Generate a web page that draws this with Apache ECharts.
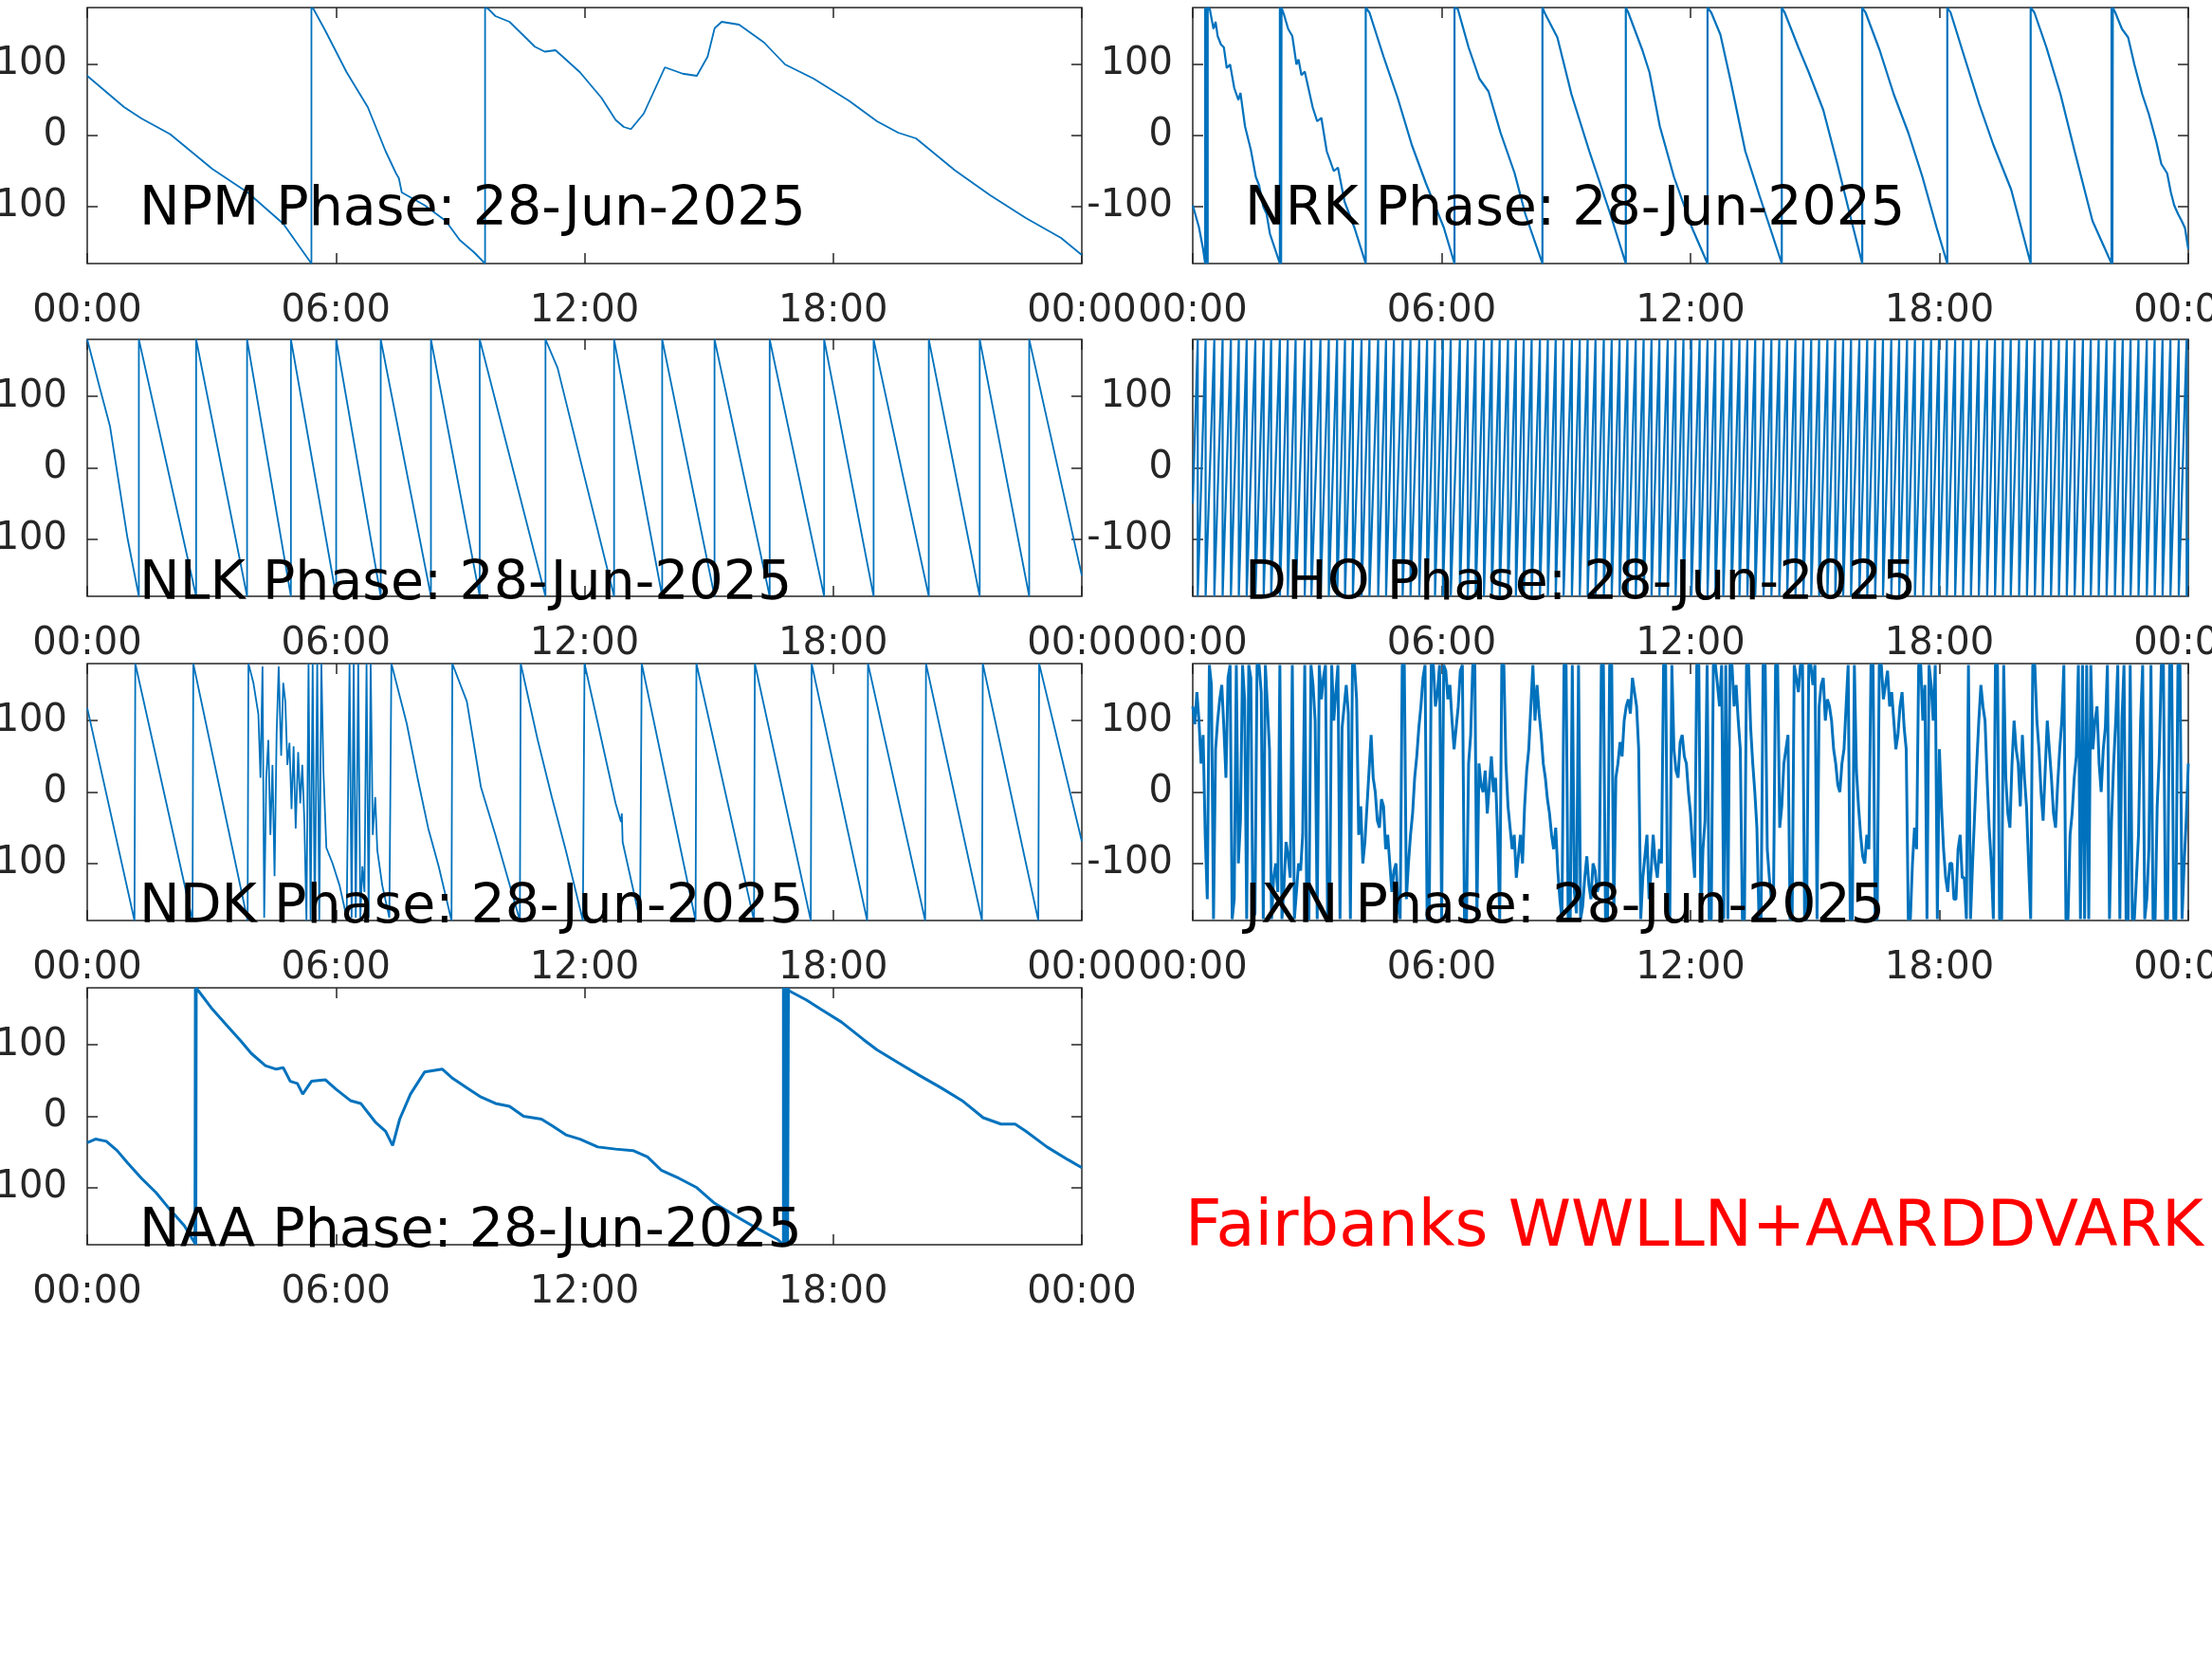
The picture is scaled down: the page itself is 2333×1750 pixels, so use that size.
<!DOCTYPE html>
<html><head><meta charset="utf-8">
<script src="https://cdn.jsdelivr.net/npm/echarts@6/dist/echarts.min.js"></script>
<style>html,body{margin:0;padding:0;background:#fff}#c{width:2333px;height:1750px}</style>
</head><body><div id="c"></div>
<script>
// ---- data (time in hours of 28-Jun-2025, phase in degrees) ----
const stations = ['NPM', 'NRK', 'NLK', 'DHO', 'NDK', 'JXN', 'NAA'];
const dateText = '28-Jun-2025';
const xTicks = [0, 6, 12, 18, 24];
const xTickLabels = ['00:00', '06:00', '12:00', '18:00', '00:00'];
const yTicks = [-100, 0, 100];
const footer = 'Fairbanks WWLLN+AARDDVARK';

const npmPhase = [[0,84],[0.89,40],[1.31,24],[2.0,2],[3.02,-47],[3.87,-80],[4.73,-124],[5.41,-180],[5.41,180],[5.46,178],[5.75,147],[6.26,89],[6.77,40],[7.2,-22],[7.45,-53],[7.52,-60],[7.59,-80],[8.14,-98],[8.65,-120],[8.99,-147],[9.33,-164],[9.6,-180],[9.6,180],[9.68,178],[9.85,168],[10.02,164],[10.19,160],[10.4,148],[10.61,136],[10.8,125],[11.04,118],[11.3,120],[11.55,107],[11.89,89],[12.41,53],[12.75,22],[12.95,12],[13.12,9],[13.43,31],[13.94,96],[14.37,87],[14.71,84],[14.97,111],[15.14,151],[15.31,160],[15.73,156],[16.33,131],[16.84,100],[17.53,80],[18.38,49],[19.06,20],[19.57,4],[20.0,-4],[20.94,-49],[21.79,-84],[22.65,-116],[23.5,-144],[24,-168]];

const nrkPhase = [[0,-98],[0.15,-129],[0.25,-160],[0.3,-180],[0.3,180],[0.32,150],[0.33,-180],[0.34,180],[0.36,-180],[0.36,180],[0.41,178],[0.5,150],[0.55,160],[0.6,140],[0.68,128],[0.75,124],[0.82,95],[0.9,100],[1.0,67],[1.1,50],[1.15,60],[1.26,13],[1.4,-20],[1.52,-58],[1.6,-70],[1.7,-100],[1.78,-110],[1.86,-138],[2.1,-180],[2.1,180],[2.12,170],[2.13,-180],[2.14,180],[2.2,170],[2.3,150],[2.4,140],[2.5,100],[2.55,107],[2.62,85],[2.7,90],[2.89,40],[3.0,20],[3.1,25],[3.23,-22],[3.4,-50],[3.5,-45],[3.66,-93],[3.9,-130],[4.17,-180],[4.17,180],[4.26,173],[4.6,111],[4.94,53],[5.28,-13],[5.62,-67],[6.05,-129],[6.31,-180],[6.31,180],[6.39,178],[6.65,124],[6.91,80],[7.13,62],[7.42,4],[7.76,-53],[8.02,-111],[8.43,-180],[8.43,180],[8.48,173],[8.79,138],[9.13,58],[9.56,-22],[10.07,-111],[10.44,-180],[10.44,180],[10.5,173],[10.84,120],[11.01,89],[11.26,13],[11.6,-58],[12.03,-129],[12.41,-180],[12.41,180],[12.5,173],[12.72,142],[12.97,76],[13.32,-22],[13.66,-84],[14.2,-180],[14.2,180],[14.27,173],[14.6,124],[14.85,89],[15.2,36],[15.54,-40],[15.88,-120],[16.14,-180],[16.14,180],[16.22,173],[16.56,120],[16.9,58],[17.25,4],[17.59,-58],[17.93,-129],[18.19,-180],[18.19,180],[18.27,173],[18.6,111],[18.96,44],[19.3,-13],[19.73,-76],[20.2,-180],[20.2,180],[20.29,173],[20.58,124],[20.92,58],[21.26,-22],[21.69,-120],[22.15,-180],[22.15,180],[22.17,-180],[22.18,180],[22.24,173],[22.4,150],[22.55,138],[22.7,100],[22.89,58],[23.05,30],[23.23,-9],[23.35,-40],[23.49,-53],[23.58,-80],[23.66,-98],[23.75,-110],[23.84,-120],[23.92,-130],[24,-160]];

const nlkPhase = [[0,180],[0.29,115],[0.55,58],[0.97,-98],[1.246,-180],[1.246,180],[2.628,-180],[2.628,180],[3.857,-180],[3.857,180],[4.915,-180],[4.915,180],[6.007,-180],[6.007,180],[7.082,-180],[7.082,180],[8.294,-180],[8.294,180],[9.471,-180],[9.471,180],[11.058,-180],[11.058,180],[11.35,140],[12.713,-180],[12.713,180],[13.874,-180],[13.874,180],[15.137,-180],[15.137,180],[16.468,-180],[16.468,180],[17.782,-180],[17.782,180],[18.976,-180],[18.976,180],[20.307,-180],[20.307,180],[21.536,-180],[21.536,180],[22.73,-180],[22.73,180],[24,-151]];

// DHO: times (h) at which the rising phase wraps from +180 back to -180
const dhoStartPhase = -50;
const dhoWrapTimes = [0.12,0.31,0.52,0.72,0.92,1.11,1.30,1.51,1.71,1.89,2.10,2.29,2.48,2.70,2.86,3.08,3.28,3.48,3.67,3.86,4.07,4.26,4.47,4.66,4.85,5.06,5.25,5.46,5.65,5.84,6.03,6.22,6.44,6.63,6.82,7.02,7.21,7.40,7.60,7.79,7.98,8.17,8.37,8.56,8.75,8.94,9.14,9.33,9.52,9.71,9.91,10.10,10.29,10.48,10.68,10.87,11.06,11.25,11.45,11.64,11.83,12.02,12.22,12.41,12.60,12.79,12.99,13.18,13.37,13.56,13.76,13.95,14.14,14.33,14.53,14.72,14.91,15.10,15.30,15.49,15.68,15.87,16.07,16.26,16.45,16.64,16.84,17.03,17.22,17.41,17.61,17.80,17.99,18.18,18.38,18.57,18.76,18.95,19.15,19.34,19.53,19.72,19.92,20.11,20.30,20.49,20.69,20.88,21.07,21.26,21.46,21.65,21.84,22.03,22.23,22.42,22.61,22.80,23.00,23.19,23.38,23.57,23.77,23.96];
const dhoEndPhase = -100;

const ndkPhase = [[0,118],[1.14,-180],[1.16,180],[2.54,-180],[2.56,180],[3.87,-180],[3.89,180],[4.01,153],[4.13,109],[4.18,20],[4.23,176],[4.27,-176],[4.32,20],[4.37,73],[4.42,-60],[4.47,38],[4.52,-118],[4.57,82],[4.62,176],[4.68,51],[4.73,153],[4.78,127],[4.83,38],[4.88,69],[4.93,-24],[4.98,64],[5.03,-51],[5.09,56],[5.14,-16],[5.19,38],[5.24,-42],[5.29,-180],[5.34,180],[5.39,-180],[5.44,180],[5.49,-180],[5.55,180],[5.6,-180],[5.65,180],[5.7,29],[5.77,-78],[5.92,-100],[6.09,-131],[6.26,-176],[6.33,180],[6.38,-176],[6.43,180],[6.48,-176],[6.54,180],[6.59,-176],[6.64,-104],[6.69,-140],[6.74,180],[6.79,-176],[6.84,180],[6.89,-60],[6.95,-7],[7.0,-82],[7.12,-131],[7.29,-176],[7.34,180],[7.71,96],[7.97,20],[8.23,-51],[8.48,-104],[8.79,-180],[8.81,180],[9.16,127],[9.5,7],[9.85,-60],[10.44,-180],[10.46,180],[10.87,73],[11.21,-7],[11.55,-82],[11.96,-180],[12.0,180],[12.41,73],[12.75,-16],[12.88,-42],[12.9,-30],[12.92,-70],[13.34,-180],[13.38,180],[14.68,-180],[14.7,180],[16.09,-180],[16.11,180],[17.46,-180],[17.48,180],[18.82,-180],[18.84,180],[20.22,-180],[20.24,180],[21.59,-180],[21.61,180],[22.95,-180],[22.97,180],[24,-69]];

// JXN: one value every 0.05 h from 00:00 to 24:00 (20 per hour)
const jxnStepHours = 0.05;
const jxnPhase = [
 120,95,140,100,40,80,-60,-150,178,150,-178,60,100,130,150,90,20,160,178,-178,
 -150,178,-100,-40,178,130,-178,178,160,-178,-170,178,178,140,-178,178,120,60,-178,-120,
 -100,-140,178,-178,-130,-70,-90,-120,178,-178,-140,-100,-110,-60,178,-178,-178,178,150,100,
 -178,178,130,160,178,-178,-178,178,100,140,178,-178,90,120,150,110,-178,178,178,130,
 -60,-20,-100,-70,-20,30,80,20,0,-40,-50,-10,-20,-80,-60,-100,-140,-110,-100,-160,
 -178,178,178,-150,-100,-60,-30,20,50,90,120,160,178,-178,-178,178,178,120,140,178,
 -178,178,170,130,150,100,60,90,120,170,178,-178,-178,40,80,178,178,-178,40,10,
 0,30,-30,10,50,0,20,-60,-178,178,178,40,-20,-50,-80,-60,-120,-90,-60,-100,
 -20,30,60,120,178,100,150,110,80,40,20,-10,-30,-60,-80,-50,-110,-150,-178,178,
 178,-178,-178,178,-140,-170,178,-178,-160,-120,-90,-130,-150,-100,-110,-140,-130,178,178,-178,
 -178,178,178,-178,20,40,70,50,100,120,130,110,160,140,120,60,-178,-120,-90,-60,
 -150,-110,-60,-100,-120,-80,-100,178,178,-178,-178,178,60,30,20,70,80,50,40,0,
 -30,-80,-120,178,178,-178,-80,-40,178,-178,-178,178,178,150,120,178,-178,178,-178,178,
 178,120,150,100,60,-178,-178,178,178,90,40,0,-50,-178,-178,178,178,-80,-120,-150,
 -150,178,178,-50,-20,40,60,80,-178,-178,178,160,140,178,178,-178,-178,178,178,150,
 178,-178,120,150,160,100,130,120,100,60,40,10,0,40,60,120,178,-178,-178,178,
 30,-20,-60,-90,-100,-60,-80,178,178,-178,-178,178,178,130,150,170,120,140,100,60,
 80,120,140,90,60,-178,-178,-100,-50,-80,178,178,100,150,-178,178,150,100,178,-178,
 60,-20,-80,-120,-140,-100,-100,-150,-150,-80,-60,-120,-120,-178,178,-178,-100,-30,40,100,
 150,120,100,20,-50,-100,-178,178,178,-178,-178,178,20,-30,-50,40,100,60,40,-20,
 80,20,-20,-100,-178,178,178,100,60,0,-40,30,100,60,20,-30,-50,10,60,100,
 178,-178,-178,-60,-30,20,50,178,-178,178,-178,178,-178,178,60,100,120,40,0,60,
 90,178,-178,-40,40,100,178,-178,100,178,-178,-178,178,-178,-178,-120,-60,100,178,-178,
 -150,-80,178,-178,-178,-20,50,178,178,-178,-178,178,178,-178,-178,178,178,-178,-100,-40,
 40];

const naaPhase = [[0,-37],[0.2,-32],[0.46,-35],[0.72,-48],[0.97,-65],[1.31,-87],[1.66,-107],[2.0,-131],[2.34,-153],[2.6,-178],[2.61,180],[2.62,-180],[2.63,180],[2.68,176],[3.02,150],[3.36,128],[3.7,106],[3.96,88],[4.3,71],[4.56,66],[4.73,68],[4.9,49],[5.07,46],[5.2,31],[5.41,49],[5.75,51],[6.0,38],[6.35,22],[6.6,18],[6.95,-8],[7.2,-21],[7.37,-41],[7.54,-4],[7.8,31],[8.14,62],[8.57,66],[8.82,53],[9.16,40],[9.5,27],[9.85,18],[10.19,14],[10.53,0],[10.96,-4],[11.21,-13],[11.55,-26],[11.89,-32],[12.32,-43],[12.75,-46],[13.17,-48],[13.52,-57],[13.86,-76],[14.28,-87],[14.71,-100],[15.14,-122],[15.65,-140],[16.16,-157],[16.67,-173],[16.8,-180],[16.8,180],[16.82,-180],[16.84,180],[16.86,-180],[16.88,180],[16.9,-180],[16.92,180],[16.93,176],[17.35,163],[17.7,150],[18.2,132],[18.72,108],[19.06,93],[19.57,75],[20.09,57],[20.6,40],[21.11,22],[21.62,-2],[22.05,-11],[22.39,-11],[22.65,-21],[23.16,-43],[23.67,-61],[24,-72]];

// ---- build series data from the arrays ----
function dhoSeries() {
  const pts = [[0, dhoStartPhase]];
  dhoWrapTimes.forEach(w => { pts.push([w, 180]); pts.push([w, -180]); });
  pts.push([24, dhoEndPhase]);
  return pts;
}
const jxnSeries = jxnPhase.map((v, i) => [+(i * jxnStepHours).toFixed(3), v]);
const seriesData = [npmPhase, nrkPhase, nlkPhase, dhoSeries(), ndkPhase, jxnSeries, naaPhase];
const lineWidths = [1.8, 2.2, 1.8, 2.2, 1.8, 3, 3];

// ---- layout ----
const FONT = 'DejaVu Sans';
const AX = '#262626';
const LINE = '#0072BD';
const colLeft = [92, 1258], colWidth = [1049, 1050];
const rowTop = [8, 358, 700, 1042], rowHeight = [270, 271, 271, 271];
const titleY = [222, 617, 958, 1300];
const titleX = [147, 1313];
const tick = { show: true, inside: true, length: 11, lineStyle: { color: AX, width: 1.5 } };

const grid = [], xAxis = [], yAxis = [], series = [], graphic = [];
stations.forEach((name, i) => {
  const r = Math.floor(i / 2), c = i % 2;
  grid.push({ left: colLeft[c], top: rowTop[r], width: colWidth[c], height: rowHeight[r],
    containLabel: false, outerBoundsMode: 'none',
    show: true, borderColor: AX, borderWidth: 1.5, backgroundColor: '#fff' });
  const fmt = v => { const k = xTicks.indexOf(v); return k >= 0 ? xTickLabels[k] : ''; };
  xAxis.push({ type: 'value', gridIndex: i, position: 'bottom', min: 0, max: 24, interval: 6,
    axisLine: { show: false, onZero: false }, splitLine: { show: false }, axisTick: tick,
    axisLabel: { show: true, margin: 31, color: AX, fontFamily: FONT, fontSize: 40,
      showMinLabel: true, showMaxLabel: true, hideOverlap: false, formatter: fmt } });
  xAxis.push({ type: 'value', gridIndex: i, position: 'top', min: 0, max: 24, interval: 6,
    axisLine: { show: false, onZero: false }, splitLine: { show: false }, axisLabel: { show: false },
    axisTick: tick });
  yAxis.push({ type: 'value', gridIndex: i, position: 'left', min: -180, max: 180,
    axisLine: { show: false, onZero: false }, splitLine: { show: false },
    axisTick: Object.assign({ customValues: yTicks }, tick),
    axisLabel: { show: true, margin: 21, color: AX, fontFamily: FONT, fontSize: 40,
      padding: [6, 0, 0, 0], customValues: yTicks } });
  yAxis.push({ type: 'value', gridIndex: i, position: 'right', min: -180, max: 180,
    axisLine: { show: false, onZero: false }, splitLine: { show: false }, axisLabel: { show: false },
    axisTick: Object.assign({ customValues: yTicks }, tick) });
  series.push({ type: 'line', name: name, xAxisIndex: 2 * i, yAxisIndex: 2 * i, data: seriesData[i],
    showSymbol: false, symbol: 'none', animation: false, silent: true, z: 2,
    lineStyle: { color: LINE, width: lineWidths[i] } });
  graphic.push({ type: 'text', left: titleX[c], top: titleY[r] - 28, z: 100,
    style: { text: name + ' Phase: ' + dateText, font: '57px "' + FONT + '"', fill: '#000' } });
});
graphic.push({ type: 'text', left: 1250, top: 1296 - 33, z: 100,
  style: { text: footer, font: '67px "' + FONT + '"', fill: '#FF0000' } });

const chart = echarts.init(document.getElementById('c'), null, { renderer: 'canvas' });
chart.setOption({ animation: false, backgroundColor: '#fff', grid, xAxis, yAxis, series, graphic });
</script></body></html>
